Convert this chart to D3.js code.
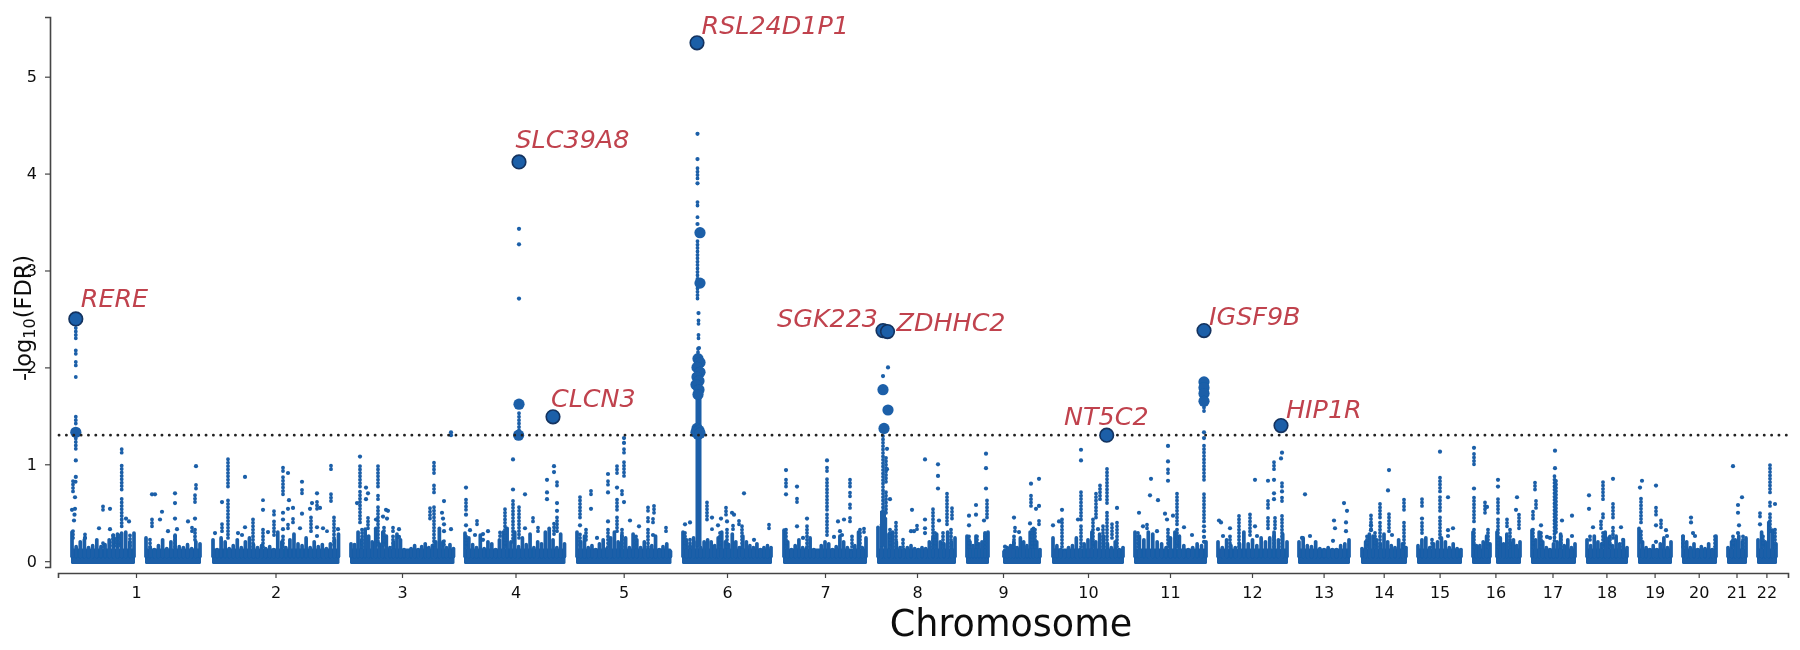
<!DOCTYPE html>
<html>
<head>
<meta charset="utf-8">
<script src="https://cdn.jsdelivr.net/npm/d3@7"></script>
<style>
  html, body { margin: 0; padding: 0; background: #fff; }
  text { font-family: "DejaVu Sans", sans-serif; }
</style>
</head>
<body>
<div id="chart"></div>
<script>
// chromosome axis
const chromLabels = ['1','2','3','4','5','6','7','8','9','10','11','12','13','14','15','16','17','18','19','20','21','22'];
const chromTicks = [78,217.5,344,457.5,565.7,669,767,859,945,1030,1112,1194,1265.6,1325.7,1381.6,1437.4,1494.5,1548.4,1596.6,1640.7,1678.5,1708.4];
const yTicks = [0,1,2,3,4,5];
const threshold = 1.3;

// labelled genes
const geneNames = ['RERE','RSL24D1P1','SLC39A8','CLCN3','SGK223','ZDHHC2','NT5C2','IGSF9B','HIP1R'];
const genePos = [17.8,639,461,495,825,829.5,1048.7,1146,1223];
const geneVal = [2.5,5.35,4.12,1.49,2.38,2.37,1.3,2.38,1.4];

// genome blocks, read as [start, end]
const blocks = [[13,77],[87,143],[154,281.5],[292,396.5],[406,507.5],[518,613.5],[624,714],[725,809],[819,898],[908,931],[945,983],[994,1066],[1076,1149],[1159,1230],[1240,1292],[1303,1349],[1359,1404],[1414,1433],[1438,1463],[1473,1518],[1528,1570],[1580,1614],[1624,1659],[1669,1689],[1699,1719]];
// height of the crowded low part along each block, left to right
const blockTops = [
  [.3,.15,.2,.22,.14,.16,.22,.15,.17,.22,.27,.28,.29,.3,.2,.29],
  [.24,.14,.12,.16,.22,.13,.2,.27,.15,.14,.17,.13,.2,.18],
  [.22,.12,.24,.2,.13,.16,.22,.14,.2,.24,.17,.14,.16,.13,.15,.12,.3,.2,.14,.22,.28,.18,.16,.24,.14,.2,.15,.17,.13,.18,.22,.28],
  [.18,.17,.3,.22,.33,.26,.2,.34,.18,.3,.26,.14,.2,.28,.22,.12,.1,.13,.16,.12,.15,.18,.14,.16,.2,.34,.2,.14,.17,.13],
  [.29,.24,.17,.14,.27,.13,.2,.18,.12,.22,.3,.34,.2,.3,.15,.24,.17,.28,.14,.2,.18,.3,.34,.22,.14,.28,.18],
  [.3,.2,.26,.14,.16,.12,.18,.22,.13,.24,.3,.2,.27,.24,.14,.28,.22,.14,.2,.13,.16,.26,.12,.15,.18,.1],
  [.3,.22,.16,.24,.2,.14,.2,.22,.2,.16,.24,.3,.2,.17,.28,.2,.14,.26,.2,.16,.14,.18,.12,.14,.16,.14],
  [.32,.2,.12,.16,.22,.14,.13,.24,.12,.1,.16,.2,.18,.12,.15,.26,.2,.14,.1,.16,.3,.14,.24],
  [.35,.38,.44,.28,.3,.2,.14,.12,.14,.16,.13,.12,.14,.13,.2,.24,.28,.2,.18,.3,.2,.24],
  [.26,.2,.16,.26,.18,.2,.28,.3],
  [.1,.14,.16,.2,.14,.24,.2,.16,.3,.34,.2,.12],
  [.24,.16,.12,.1,.14,.16,.24,.12,.18,.22,.3,.2,.28,.26,.18,.14,.2,.12,.14],
  [.3,.26,.22,.3,.28,.2,.18,.14,.24,.3,.26,.16,.12,.14,.18,.16,.2],
  [.2,.14,.22,.16,.14,.18,.3,.18,.22,.16,.24,.2,.24,.3,.22,.28,.2],
  [.2,.24,.16,.15,.2,.13,.12,.14,.12,.12,.16,.18,.22],
  [.13,.2,.28,.26,.22,.18,.28,.2,.16,.14,.22,.18,.14],
  [.16,.22,.24,.14,.18,.2,.24,.2,.14,.18,.13,.12],
  [.3,.16,.16,.2,.26,.18],
  [.3,.24,.18,.28,.2,.22,.16,.2],
  [.32,.22,.3,.2,.14,.12,.18,.2,.28,.16,.22,.14,.18],
  [.22,.16,.26,.2,.18,.3,.24,.16,.26,.18,.22,.14],
  [.34,.2,.14,.12,.16,.12,.18,.24,.14,.2],
  [.26,.2,.14,.18,.12,.15,.13,.18,.12,.26],
  [.14,.2,.22,.26,.2,.24],
  [.22,.3,.2,.4,.32,.18]
];

// dense vertical runs of points, [position, low, high]
const runs = [
  [17.8,1.9,1.93],[17.8,2.02,2.06],[17.8,2.14,2.2],[17.8,2.3,2.42],[17.8,1.42,1.5],[17.8,1.16,1.3],[15,.72,.83],[15,.24,.34],
  [63.7,1.12,1.17],[63.7,.74,1.01],[63.7,.36,.67],[27,.24,.29],[45,.53,.58],[45,.15,.22],[55,.16,.28],[58,.16,.24],[61,.16,.3],[72,.16,.29],
  [94,.36,.44],[92,.15,.24],[117,.15,.27],[138,.75,.81],[137,.61,.69],[134,.31,.38],[137,.22,.36],
  [170,.77,1.07],[170,.24,.65],[195,.15,.45],[164,.31,.41],
  [205,.63,.66],[205,.15,.36],[216,.48,.54],[216,.27,.43],[225,.93,1],[225,.69,.88],[225,.15,.27],[235,.4,.46],[230,.34,.4],[244,.7,.74],[259,.54,.62],[253,.31,.48],[273,.95,1.01],[273,.62,.71],[276,.17,.48],[269,.31,.34],
  [302,.77,1.01],[302,.4,.74],[310,.34,.46],[304,.15,.36],[320,.77,1],[320,.64,.69],[320,.17,.57],[326,.17,.38],[335,.31,.38],[335,.15,.27],[376,.91,1.05],[376,.71,.79],[376,.17,.57],[372,.44,.55],[386,.17,.24],
  [461,1.35,1.55],
  [408,.53,.65],[408,.15,.29],[419,.38,.44],[442,.26,.33],[447,.15,.56],[455,.2,.65],[461,.24,.58],[475,.41,.46],[480,.31,.36],[499,.78,.83],[499,.31,.46],[496,.28,.41],
  [522,.45,.69],[522,.17,.31],[528,.22,.34],[533,.69,.76],[550,.79,.83],[550,.15,.33],[559,.91,1.01],[559,.53,.65],[559,.31,.46],[566,1.12,1.17],[566,.88,1.03],[564,.69,.76],[564,.15,.36],[578,.15,.27],[590,.52,.58],[590,.41,.46],[596,.5,.6],[595,.4,.44],[590,.15,.33],[608,.31,.36],
  [639.5,3.95,4.08],[639.5,3.67,3.74],[639.5,3.55,3.58],[639.5,2.88,3.33],[639.5,2.71,2.84],[640.5,2.45,2.5],[640.5,2.3,2.37],[640,1.7,2.2],
  [627,.15,.3],[632,.15,.24],[649,.43,.64],[654,.33,.36],[668,.48,.56],[669,.15,.33],[675,.33,.38],[681,.38,.44],[684,.15,.38],[662,.15,.31],[711,.34,.39],
  [728,.77,.86],[728,.15,.33],[739,.61,.65],[749,.15,.38],[769,.93,.98],[769,.53,.88],[769,.27,.5],[792,.77,.86],[792,.67,.73],[792,.55,.62],[792,.41,.46],[794,.15,.27],[802,.15,.33],[806,.3,.36],
  [825,.52,1.3],[828,.5,.72],[828,.82,1.1],[832,.15,.36],[838,.15,.43],[845,.15,.25],[889,.38,.7],[894,.44,.57],[859,.33,.38],[875,.15,.54],[877,.15,.3],[885,.15,.31],[893,.15,.33],
  [929,.45,.64],[927,.15,.31],[911,.15,.27],[919,.15,.27],[973,.57,.68],[981,.38,.44],[974,.15,.33],[977,.15,.33],[957,.31,.38],[956,.15,.26],
  [1023,.43,.72],[1023,.15,.38],[1004,.15,.45],[1038,.45,.72],[1035,.15,.46],[1042,.64,.79],[1049,.6,.98],[1049,.15,.52],[1045,.15,.39],[1059,.15,.43],[1054,.24,.41],
  [1110,.91,.95],[1119,.38,.72],[1089,.34,.41],[1080,.15,.31],[1110,.15,.34],[1119,.15,.34],
  [1146,.84,1.22],[1146,.41,.7],[1146,1.55,1.6],
  [1181,.15,.5],[1192,.27,.51],[1216,.95,1.05],[1224,.77,.83],[1224,.62,.69],[1210,.55,.63],[1224,.15,.5],[1217,.34,.45],[1210,.34,.48],[1216,.15,.27],[1172,.15,.27],
  [1322,.45,.6],[1322,.15,.41],[1313,.33,.48],[1331,.31,.52],[1346,.53,.64],[1346,.15,.43],[1317,.15,.31],[1309,.15,.27],
  [1364,.57,.65],[1364,.29,.4],[1382,.72,.88],[1382,.52,.69],[1382,.24,.48],[1374,.15,.24],
  [1416,1,1.12],[1416,.41,.66],[1416,.15,.33],[1427,.5,.61],[1430,.15,.36],[1440,.5,.67],[1440,.15,.44],[1449,.36,.46],[1452,.15,.33],[1461,.34,.5],
  [1477,.74,.84],[1478,.55,.65],[1475,.44,.53],[1496.5,.21,.88],[1498,.3,.85],[1483,.15,.31],[1475,.15,.33],[1503,.15,.26],
  [1532,.22,.29],[1545,.64,.83],[1545,.45,.52],[1543,.34,.43],[1555,.45,.6],[1555,.24,.38],[1545,.15,.31],[1552,.15,.27],[1565,.15,.24],
  [1583,.4,.66],[1583,.2,.34],[1598,.48,.58],[1603,.35,.45],[1657,.15,.27],[1625,.15,.26],[1675,.15,.26],[1685,.15,.27],
  [1712,.71,1.01],[1712,.57,.64],[1702,.46,.52],[1712,.31,.52],[1717,.15,.34],[1705,.15,.29]
];
// the thick base of the strongest peaks
const thickRuns = [[640.5,.15,1.72],[825,.15,.52]];

// single points, [position, value]
const dots = [
  [17.8,1.04],[17.8,.87],[17,.66],[14,.53],[17,.54],[16.5,.48],[16,.42],[17.5,.82],
  [68,.44],[71,.41],[41,.34],[52,.54],[52,.33],[27,.24],
  [94,.69],[97,.69],[104,.51],[102,.43],[110,.31],[119,.33],[117,.7],[117,.6],[117,.44],[138,.98],[130,.41],[137,.44],
  [164,.61],[187,.87],[187,.35],[157,.29],[180,.29],[184,.27],
  [205,.53],[210,.3],[230,.91],[225,.5],[225,.43],[225,.33],[231,.63],[230,.54],[235,.55],[244,.82],[244,.49],[242,.34],[254,.6],[259,.7],[262,.55],[252,.54],[259,.35],[265,.34],[259,.26],[280,.33],
  [302,1.08],[299,.6],[308,.76],[310,.7],[308,.64],[328,.53],[330,.52],[325,.46],[329,.44],[318,.43],[341,.33],[341,.25],[384,.5],[385,.44],[386,.38],[386,.62],[393,.33],[386,.31],[393,1.33],[393,1.3],
  [461,3.43],[461,3.27],[461,2.71],[455,1.05],
  [408,.76],[408,.48],[408,.37],[412,.32],[417,.27],[425,.28],[425,.22],[430,.31],[455,.74],[467,.69],[467,.34],[489,.84],[489,.71],[489,.64],[496,.98],[496,.92],[499,.6],[499,.52],
  [522,.37],[533,.54],[539,.24],[550,.9],[550,.71],[550,.41],[559,.76],[566,1.27],[566,1.22],[566,.61],[572,.42],[581,.36],[595,.27],
  [639.5,4.41],[639.5,4.15],[639.5,3.9],[639.5,3.48],[640.5,2.56],[641,2.2],
  [627,.38],[632,.4],[654,.45],[660,.37],[663,.44],[669,.41],[674,.5],[676,.48],[686,.7],[696,.22],
  [728,.94],[728,.69],[739,.77],[739,.36],[745,.24],[749,.44],[769,1.04],[786,.43],[780,.41],[782,.31],[784,.27],[776,.25],
  [830,2],[825,1.91],[829,1.16],[829,.95],[832,.64],[867,1.05],[880,1],[880,.88],[880,.75],[854,.53],[867,.43],[867,.34],[867,.29],[853,.31],[856,.31],[881,.42],
  [928,1.11],[928,.96],[928,.75],[918,.58],[918,.48],[911,.47],[911,.37],[926,.42],
  [973,.8],[981,.85],[978,.54],[981,.57],[956,.45],[961,.3],[947,.15],[972,.39],[995,.37],[1001,.41],
  [1023,1.15],[1023,1.04],[1004,.53],[1020,.43],[1059,.55],[1040,.33],
  [1081,.5],[1093,.85],[1092,.68],[1100,.63],[1110,1.19],[1110,1.03],[1110,.83],[1107,.49],[1109,.43],[1115,.47],[1085,.36],[1099,.31],[1126,.35],[1134,.27],
  [1146,1.33],[1146,1.27],[1146,.36],[1146,.31],[1146,.25],[1146,.2],
  [1161,.42],[1163,.4],[1172,.34],[1165,.26],[1197,.84],[1197,.36],[1199,.26],
  [1224,1.12],[1223,1.06],[1210,.83],[1216,.84],[1216,.7],[1216,.64],[1224,.72],
  [1247,.69],[1286,.6],[1289,.52],[1276,.42],[1277,.34],[1288,.4],[1288,.31],[1244,.24],[1252,.26],[1275,.21],
  [1331,.94],[1330,.73],[1313,.37],[1313,.32],[1334,.27],
  [1364,.44],[1382,1.13],[1390,.66],[1395,.34],[1390,.32],[1390,.26],
  [1416,1.17],[1416,.75],[1429,.56],
  [1440,.84],[1440,.77],[1459,.66],[1458,.53],
  [1497,1.14],[1497,.96],[1483,.37],[1504,.42],[1514,.47],[1514,.26],[1489,.25],[1492,.24],
  [1531,.68],[1531,.54],[1535,.35],[1555,.85],[1563,.35],
  [1584,.83],[1582,.76],[1598,.78],[1598,.37],[1598,.2],[1608,.32],[1609,.26],
  [1633,.45],[1633,.4],[1635,.29],[1637,.26],
  [1675,.98],[1684,.66],[1680,.58],[1680,.5],[1681,.37],[1680,.29],
  [1717,.59],[1702,.38]
];

// larger unlabelled points near the peaks
const midDots = [
  [17.8,1.33],[461,1.62],[460.6,1.3],
  [642,3.39],[642,2.87],[640,2.09],[642,2.05],[639,2],[642,1.95],[639,1.9],[641,1.86],[638,1.82],[641,1.77],[640,1.72],[639,1.37],[641,1.35],[640,1.31],[638,1.33],[642,1.32],
  [825,1.77],[830,1.56],[826,1.37],
  [1146,1.85],[1146,1.79],[1146,1.73],[1146,1.65]
];

const width = 1800, height = 650;
const blue = '#1a5ea8';

const svg = d3.select('#chart').append('svg')
  .attr('width', width)
  .attr('height', height);

const x = d3.scaleLinear().domain([0, 1730]).range([58, 1788]);
const y = d3.scaleLinear().domain([-0.06, 5.616]).range([567, 17]);

const defs = svg.append('defs');
defs.append('filter').attr('id', 'soft')
  .append('feGaussianBlur').attr('stdDeviation', 0.45);
defs.append('filter').attr('id', 'softer')
  .append('feGaussianBlur').attr('stdDeviation', 0.3);

const marks = svg.append('g').attr('filter', 'url(#soft)');

// crowded low band
marks.selectAll('.block')
  .data(blocks)
  .enter()
  .append('rect')
  .attr('class', 'block')
  .attr('x', d => x(d[0]))
  .attr('width', d => x(d[1]) - x(d[0]))
  .attr('y', y(0.13))
  .attr('height', y(-0.03) - y(0.13))
  .attr('rx', 1.5)
  .attr('fill', blue);

blocks.forEach((b, i) => {
  const tops = blockTops[i];
  const step = d3.scaleLinear().domain([0, tops.length - 1]).range([b[0] + 1, b[1] - 1]);
  marks.append('g').selectAll('line')
    .data(tops)
    .enter()
    .append('line')
    .attr('x1', (d, j) => x(step(j)))
    .attr('x2', (d, j) => x(step(j)))
    .attr('y1', y(0.05))
    .attr('y2', d => y(d))
    .attr('stroke', blue)
    .attr('stroke-width', 3.7)
    .attr('stroke-linecap', 'round');
});

// beaded columns, the dash makes the points show
marks.append('g').selectAll('line')
  .data(runs)
  .enter()
  .append('line')
  .attr('x1', d => x(d[0]))
  .attr('x2', d => x(d[0]))
  .attr('y1', d => y(d[1]))
  .attr('y2', d => y(d[2]))
  .attr('stroke', blue)
  .attr('stroke-width', 3.8)
  .attr('stroke-dasharray', '0.1 3.3')
  .attr('stroke-linecap', 'round');

marks.append('g').selectAll('line')
  .data(thickRuns)
  .enter()
  .append('line')
  .attr('x1', d => x(d[0]))
  .attr('x2', d => x(d[0]))
  .attr('y1', d => y(d[1]))
  .attr('y2', d => y(d[2]))
  .attr('stroke', blue)
  .attr('stroke-width', 6);

marks.append('g').selectAll('circle')
  .data(dots)
  .enter()
  .append('circle')
  .attr('cx', d => x(d[0]))
  .attr('cy', d => y(d[1]))
  .attr('r', 2.1)
  .attr('fill', blue);

marks.append('g').selectAll('circle')
  .data(midDots)
  .enter()
  .append('circle')
  .attr('cx', d => x(d[0]))
  .attr('cy', d => y(d[1]))
  .attr('r', 5.6)
  .attr('fill', blue);

// significance line
svg.append('line')
  .attr('x1', 59)
  .attr('x2', 1787)
  .attr('y1', y(threshold))
  .attr('y2', y(threshold))
  .attr('stroke', '#222')
  .attr('stroke-width', 2.8)
  .attr('stroke-dasharray', '0.1 7.25')
  .attr('stroke-linecap', 'round');

// labelled genes
svg.append('g').attr('filter', 'url(#softer)').selectAll('circle')
  .data(geneNames)
  .enter()
  .append('circle')
  .attr('cx', (d, i) => x(genePos[i]))
  .attr('cy', (d, i) => y(geneVal[i]))
  .attr('r', 6.8)
  .attr('fill', blue)
  .attr('stroke', '#12325e')
  .attr('stroke-width', 1.6);

const labelDx = [5, 4.5, -3.5, -2, -5, 9, -42.7, 5, 5];
const labelDy = [-11.5, -9, -13.5, -9.5, -4, -0.5, -10.5, -6, -8];

svg.append('g').attr('filter', 'url(#softer)').selectAll('text')
  .data(geneNames)
  .enter()
  .append('text')
  .attr('x', (d, i) => x(genePos[i]) + labelDx[i])
  .attr('y', (d, i) => y(geneVal[i]) + labelDy[i])
  .attr('text-anchor', d => d === 'SGK223' ? 'end' : 'start')
  .attr('font-style', 'italic')
  .attr('font-size', 25.4)
  .attr('fill', '#c0434e')
  .text(d => d);

// axes
const xAxis = d3.axisBottom(x)
  .tickValues(chromTicks)
  .tickFormat((d, i) => chromLabels[i])
  .tickSizeOuter(0)
  .tickSize(5)
  .tickPadding(9);

const yAxis = d3.axisLeft(y)
  .tickValues(yTicks)
  .tickFormat(d3.format('d'))
  .tickSizeOuter(0)
  .tickSize(5)
  .tickPadding(8);

const gx = svg.append('g').attr('transform', 'translate(0,573)').call(xAxis);
const gy = svg.append('g').attr('transform', 'translate(50,0)').call(yAxis);

[gx, gy].forEach(g => {
  g.attr('filter', 'url(#softer)');
  g.selectAll('.domain').attr('stroke', '#444').attr('stroke-width', 1.6);
  g.selectAll('.tick line').attr('stroke', '#444').attr('stroke-width', 1.2);
  g.selectAll('.tick text').attr('font-size', 16).attr('fill', '#111');
});

svg.append('text')
  .attr('x', 1011)
  .attr('y', 636)
  .attr('text-anchor', 'middle')
  .attr('font-size', 36.5)
  .attr('fill', '#111')
  .attr('filter', 'url(#softer)')
  .text('Chromosome');

const ylab = svg.append('text')
  .attr('transform', 'translate(31,318) rotate(-90)')
  .attr('text-anchor', 'middle')
  .attr('font-size', 22.5)
  .attr('fill', '#111')
  .attr('filter', 'url(#softer)');
ylab.append('tspan').text('-log');
ylab.append('tspan').attr('font-size', 16).attr('dy', 4).text('10');
ylab.append('tspan').attr('dy', -4).text('(FDR)');
</script>
</body>
</html>
